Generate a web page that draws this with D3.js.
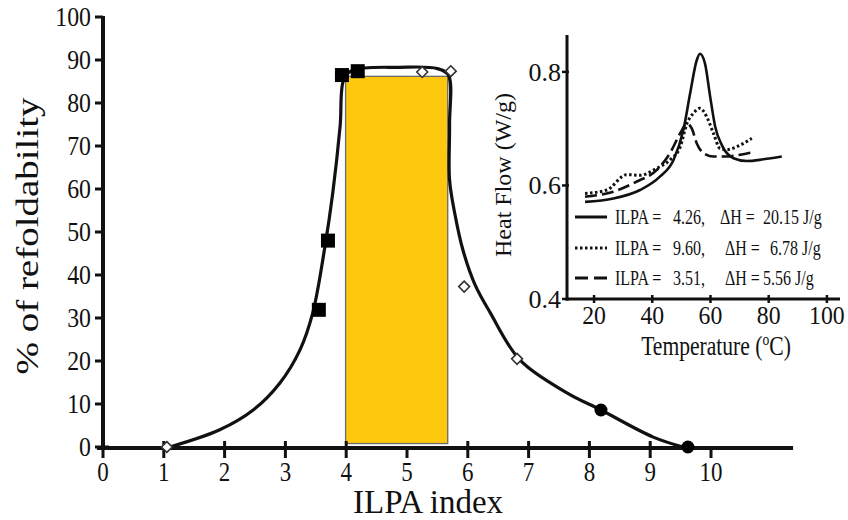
<!DOCTYPE html>
<html><head><meta charset="utf-8">
<script src="https://cdn.jsdelivr.net/npm/d3@7"></script>
<style>body{margin:0;background:#fff}svg{display:block}text{font-family:"Liberation Serif","Times New Roman",serif;fill:#111}</style>
</head><body>
<svg id="c" width="848" height="520"></svg>
<script>
// ---------- data ----------
const yTicks = [0,10,20,30,40,50,60,70,80,90,100];
const xTicks = [0,1,2,3,4,5,6,7,8,9,10];
const xTicksBelowOnly = [5,10];
const curveX = [1.10,1.92,2.47,2.91,3.24,3.45,3.65,3.78,3.90,3.96,4.10,4.88,5.50,5.68,5.70,5.70,5.79,5.92,6.12,6.37,6.86,7.63,8.19,9.05,9.54];
const curveY = [0,4.0,8.6,14.9,22.6,31.2,46.6,59.2,74.6,85.5,87.6,88.3,88.0,86.5,75,62.1,54.0,45.8,37.7,31.2,20.2,12.6,8.6,2.3,0];
const squareX = [3.55,3.70,3.93,4.19];
const squareY = [31.9,48.0,86.5,87.4];
const diamondX = [1.05,5.25,5.72,5.94,6.81];
const diamondY = [0,87.2,87.4,37.3,20.5];
const circleX = [8.19,9.62];
const circleY = [8.6,0];
const boxX = [3.99,5.67];
const boxY = [0.8,86.2];

const insetXTicks = [20,40,60,80,100];
const insetYTicks = [0.4,0.6,0.8];
const solidT = [16.9,26.6,35.8,42.7,47.3,50.7,53.0,55.3,56.4,58.1,59.9,61.6,63.9,67.9,72.5,78.2,84.5];
const solidH = [0.571,0.577,0.592,0.616,0.645,0.698,0.762,0.821,0.832,0.815,0.756,0.704,0.671,0.648,0.643,0.646,0.651];
const dottedT = [16.9,24.4,31.2,35.8,41.5,46.1,49.6,51.9,54.1,56.4,58.7,61.0,63.3,65.6,70.2,74.2];
const dottedH = [0.586,0.592,0.619,0.618,0.630,0.645,0.668,0.709,0.727,0.736,0.721,0.692,0.665,0.663,0.671,0.683];
const dashedT = [16.9,26.6,34.7,41.5,46.1,49.6,51.9,53.6,55.3,57.6,61.0,65.6,70.2,74.2];
const dashedH = [0.580,0.589,0.607,0.627,0.657,0.692,0.709,0.700,0.674,0.657,0.651,0.651,0.654,0.658];
const legendILPA = ["4.26,","9.60,","3.51,"];
const legendDH = ["20.15 J/g","6.78 J/g","5.56 J/g"];
const legendDash = ["none","2.5,2.5","12,5"];

// ---------- drawing ----------
const svg = d3.select("#c");
const zip = (a,b) => a.map((v,i)=>[v,b[i]]);

const x = d3.scaleLinear().domain([0,10]).range([103,711]);
const y = d3.scaleLinear().domain([0,100]).range([447,17]);

function label(g, px, py, str, size, anchor, sq, rotate){
  return g.append("text")
    .attr("transform", `translate(${px},${py}) scale(${sq},1)` + (rotate ? " rotate(-90)" : ""))
    .attr("text-anchor", anchor)
    .attr("font-size", size)
    .text(str);
}

// yellow box
svg.append("rect")
  .attr("x", x(boxX[0])).attr("y", y(boxY[1]))
  .attr("width", x(boxX[1]) - x(boxX[0])).attr("height", y(boxY[0]) - y(boxY[1]))
  .attr("fill", "#FDC80D").attr("stroke", "#6b6b6b").attr("stroke-width", 1.3);

// axes main
const ax = svg.append("g").attr("stroke", "#111").attr("stroke-linecap", "butt");
ax.append("line").attr("x1", x(0)).attr("x2", x(0)).attr("y1", y(100)-1).attr("y2", y(0)+2).attr("stroke-width", 4);
ax.append("line").attr("x1", x(-0.1)).attr("x2", x(11.35)).attr("y1", y(0)+1).attr("y2", y(0)+1).attr("stroke-width", 4);
yTicks.forEach(t => {
  ax.append("line").attr("x1", x(0)-8).attr("x2", t===0 ? x(0)+6 : x(0)).attr("y1", y(t)).attr("y2", y(t)).attr("stroke-width", 3);
  label(svg, x(0)-12, y(t)+9, t, 28, "end", 0.85);
});
xTicks.forEach(t => {
  const below = xTicksBelowOnly.includes(t);
  ax.append("line").attr("x1", x(t)).attr("x2", x(t))
    .attr("y1", below ? y(0)+1 : y(0)-6).attr("y2", y(0)+11).attr("stroke-width", 3);
  label(svg, x(t), 481, t, 27, "middle", 0.85);
});
label(svg, 428, 513, "ILPA index", 33, "middle", 1);
label(svg, 38, 236, "% of refoldability", 39, "middle", 0.8, true);

// main curve
svg.append("path")
  .attr("d", d3.line().x(d=>x(d[0])).y(d=>y(d[1])).curve(d3.curveCatmullRom.alpha(0.5))(zip(curveX, curveY)))
  .attr("fill", "none").attr("stroke", "#111").attr("stroke-width", 3.2);

// markers
svg.selectAll(".sq").data(zip(squareX, squareY)).join("rect")
  .attr("x", d=>x(d[0])-7).attr("y", d=>y(d[1])-7).attr("width", 14).attr("height", 14).attr("fill", "#000");
svg.selectAll(".dm").data(zip(diamondX, diamondY)).join("path")
  .attr("d", d3.symbol(d3.symbolDiamond2, 75))
  .attr("transform", d=>`translate(${x(d[0])},${y(d[1])})`)
  .attr("fill", "#fff").attr("stroke", "#333").attr("stroke-width", 1.6);
svg.selectAll(".ci").data(zip(circleX, circleY)).join("circle")
  .attr("cx", d=>x(d[0])).attr("cy", d=>y(d[1])).attr("r", 6.5).attr("fill", "#000");

// ---------- inset ----------
const xi = d3.scaleLinear().domain([10.7,104.5]).range([567,840]);
const yi = d3.scaleLinear().domain([0.4,0.865]).range([299,35]);
const ins = svg.append("g");
const ia = ins.append("g").attr("stroke", "#111");
ia.append("line").attr("x1", xi(10.7)).attr("x2", xi(10.7)).attr("y1", yi(0.865)).attr("y2", yi(0.4)+1.5).attr("stroke-width", 3);
ia.append("line").attr("x1", xi(10.7)-1.5).attr("x2", xi(104.5)).attr("y1", yi(0.4)).attr("y2", yi(0.4)).attr("stroke-width", 3);
insetXTicks.forEach(t => {
  ia.append("line").attr("x1", xi(t)).attr("x2", xi(t)).attr("y1", yi(0.4)-4).attr("y2", yi(0.4)+4).attr("stroke-width", 2.5);
  label(ins, xi(t), 324, t, 25, "middle", 0.95);
});
insetYTicks.forEach(t => {
  ia.append("line").attr("x1", xi(10.7)-5).attr("x2", xi(10.7)+2).attr("y1", yi(t)).attr("y2", yi(t)).attr("stroke-width", 2.5);
  label(ins, xi(10.7)-6, yi(t)+9, t.toFixed(1), 26, "end", 1);
});
const tt = label(ins, 716, 355, "Temperature (", 27, "middle", 0.8);
tt.append("tspan").attr("dy", -10).attr("font-size", 17).text("o");
tt.append("tspan").attr("dy", 10).text("C)");
ins.append("text").attr("transform", "translate(511,175) rotate(-90)").attr("text-anchor", "middle").attr("font-size", 24).text("Heat Flow (W/g)");

const li = d3.line().x(d=>xi(d[0])).y(d=>yi(d[1])).curve(d3.curveMonotoneX);
[[solidT,solidH],[dottedT,dottedH],[dashedT,dashedH]].forEach((s,i) => {
  ins.append("path").attr("d", li(zip(s[0], s[1])))
    .attr("fill", "none").attr("stroke", "#111").attr("stroke-width", i===1 ? 3 : 2.6)
    .attr("stroke-dasharray", legendDash[i]);
});

// legend
const rowY = [217, 248, 278];
rowY.forEach((ry, i) => {
  ins.append("line").attr("x1", 575).attr("x2", 607).attr("y1", ry).attr("y2", ry)
    .attr("stroke", "#111").attr("stroke-width", 3).attr("stroke-dasharray", i===2 ? "13,6" : legendDash[i]);
  label(ins, 615, ry+7, "ILPA =", 20, "start", 0.8);
  label(ins, 673, ry+7, legendILPA[i], 20, "start", 0.8);
  label(ins, i===0 ? 720 : 725, ry+7, "\u0394H =", 20, "start", 0.8);
  label(ins, i===1 ? 770 : 763, ry+7, legendDH[i], 20, "start", 0.8);
});
</script>
</body></html>
